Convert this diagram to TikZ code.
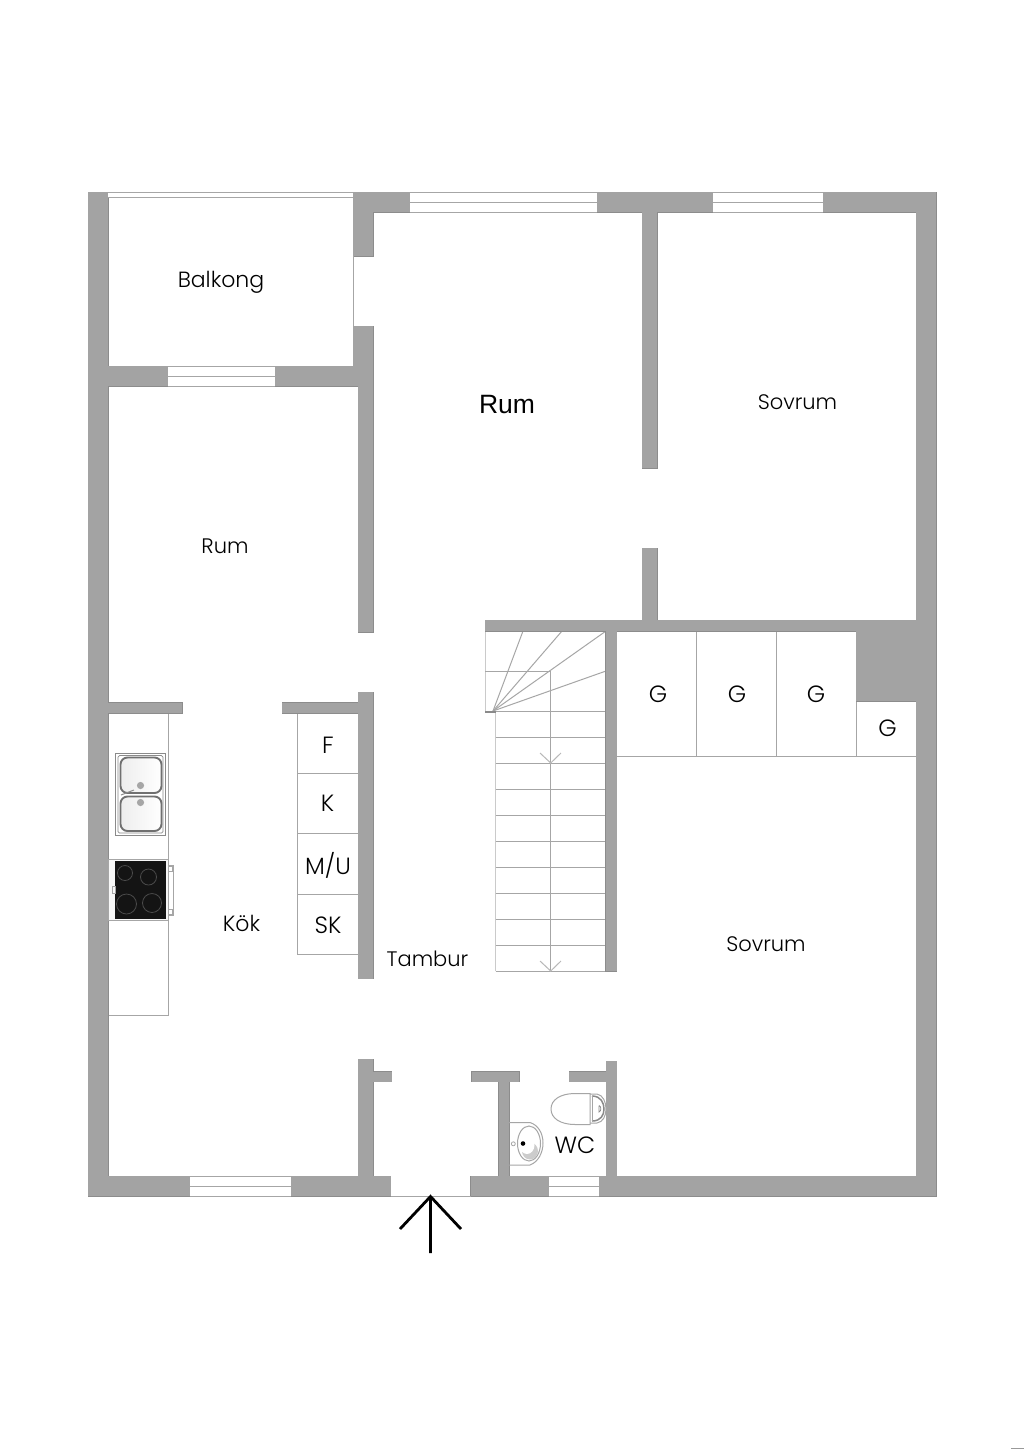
\documentclass[tikz,border=0pt]{standalone}
\usepackage{fontspec}
\setmainfont{Poppins}[UprightFont=* Light]
\newfontfamily\arialfont{Liberation Sans}
\tikzset{
  walledge/.style={draw=edgegray,line width=1pt},
  thinline/.style={draw=linegray,line width=1pt},
  winline/.style={draw=linegray,line width=1pt},
  lbl/.style={inner sep=0pt,text=black,font=\fontsize{21}{26}\selectfont},
  lblbig/.style={inner sep=0pt,text=black,font=\fontsize{23.5}{26}\selectfont},
  sinkline/.style={draw=sinkgray,line width=1pt},
  basin/.style={draw=basinedge,line width=1.9pt,rounded corners=7pt,left color=gray!14,right color=white},
}
\definecolor{wallgray}{HTML}{A3A3A3}
\definecolor{edgegray}{HTML}{8C8C8C}
\definecolor{linegray}{HTML}{A6A6A6}
\definecolor{sinkgray}{HTML}{8A8A8A}
\definecolor{basinedge}{HTML}{707070}
\definecolor{ringgray}{HTML}{4A4A4A}
\newcommand{\wallrects}{88/192/108/1196,916/192/936/1196,
353/192/410/212,597/192/713/212,823/192/936/212,
88/1176/190/1196,291/1176/390.7/1196,470.7/1176/548.7/1196,599.3/1176/936/1196,
353/192/373/256,353/326/373/386,358/366/373/632,
108/366/168/386,275/366/373/386,
642/192/657/468,642/548/657/631,
485/620/916/631,605.8/620/616.5/971,856/620/936/701,
108/702.7/182/713,282/702.7/373/713,358/692/373/978.5,
358/1059/373/1176,358/1071.7/391.7/1081.7,
498.7/1071.7/509/1176,471.7/1071.7/519.3/1081.7,
569.3/1071.7/616.5/1081.7,606/1061/616.5/1176}
\begin{document}
\begin{tikzpicture}[x=1pt,y=-1pt]
\useasboundingbox[fill=white] (0,0) rectangle (1024,1449);
\fill[gray!80] (1011,1447.6) rectangle (1024,1449);
% fixtures
\draw[thinline] (108,713) rectangle (168.5,1015);
\draw[thinline] (108,859) -- (168.5,859) (108,920) -- (168.5,920);
\draw[thinline] (297.5,713) rectangle (358,954.5);
\foreach \yy in {773.3,833.8,894} \draw[thinline] (297.5,\yy) -- (358,\yy);
% closets
\draw[thinline] (616,756) -- (916,756);
\foreach \xx in {696.3,776,856} \draw[thinline] (\xx,631) -- (\xx,756);
\draw[thinline] (856,701) -- (916,701);
% stairs
\draw[thinline,draw=linegray!60] (485,631) -- (485,711) (495.5,711) -- (495.5,971);
\foreach \yy in {711,737,763,789,815,841,867,893,919,945,971} \draw[thinline] (495.5,\yy) -- (606,\yy);
\draw[thinline] (485,671) -- (550.7,671) -- (550.7,971);
\foreach \a/\b in {523/631,562/631,606/631,606/671} \draw[thinline] (493,711) -- (\a,\b);
\foreach \yy in {763,971} \draw[thinline,draw=linegray!80] (540,\yy-10) -- (550.7,\yy) -- (561,\yy-10);
% walls: outline of all rectangles, then fill on top gives the union outline
\foreach \a/\b/\c/\d in \wallrects \draw[walledge] (\a,\b) rectangle (\c,\d);
\foreach \a/\b/\c/\d in \wallrects \fill[wallgray] (\a,\b) rectangle (\c,\d);
\fill[sinkgray] (485,710.5) rectangle (495.5,712.5);
% windows
\foreach \a/\b/\c/\d/\m in {410/192/597/212/202,713/192/823/212/202,190/1176/291/1196/1186,548.7/1176/599.3/1196/1186,168/366/275/386/376} {
  \fill[white] (\a,\b) rectangle (\c,\d);
  \draw[winline] (\a,\b) -- (\c,\b) (\a,\m) -- (\c,\m) (\a,\d) -- (\c,\d);
}
\fill[white] (108,192) rectangle (353,197);
\draw[winline] (108,192) -- (353,192) (108,197) -- (353,197);
\draw[thinline] (353,256) -- (353,326);
\draw[winline] (390.7,1196) -- (470.7,1196);
% sink
\draw[sinkline,fill=white] (115.7,753) rectangle (165.3,835.7);
\draw[sinkline,line width=.7pt,rounded corners=1.5pt] (118,755.5) rectangle (163,833);
\foreach \t/\bb in {757.5/793,796.5/831} \draw[basin] (120.5,\t) rectangle (161.5,\bb);
\fill[gray!70] (140.5,785.5) circle (3.6pt);
\fill[gray!70] (140.5,802.5) circle (3.6pt);
\draw[gray!90,line width=1pt] (121,795) -- (134,790);
% stove
\draw[thinline,fill=gray!6] (108,859) rectangle (168,920);
\fill[black!92] (115,860.5) rectangle (166,919);
\draw[thinline] (112.5,886) rectangle (115,893);
\draw[thinline] (168,865) rectangle (173,915);
\draw[thinline,line width=.8pt] (168,866) rectangle (172,871) (168,909) rectangle (172,914);
\foreach \x/\y/\r in {125/873/7.5,148.5/877/8,126.5/904/10,152/903/9.5} \draw[ringgray,line width=.8pt] (\x,\y) circle (\r pt);
% wc basin
\draw[thinline] (509,1122.5) -- (530,1122.5) .. controls (538,1125) and (543,1133) .. (543,1143) .. controls (543,1153) and (538,1162) .. (530,1165) -- (509,1165);
\draw[thinline,fill=white] (529,1143.5) ellipse (11.5pt and 17.5pt);
\fill[gray!40] (530,1151) ellipse (8pt and 8.5pt);
\fill[white] (527,1145) ellipse (7.5pt and 9pt);
\fill[black] (523,1143.5) circle (2.3pt);
\draw[thinline,line width=.8pt] (513.3,1143.8) circle (2pt);
% toilet
\draw[thinline] (590,1093.5) -- (575,1093.5) .. controls (560,1093.5) and (551,1100) .. (551,1109) .. controls (551,1118) and (560,1124.5) .. (575,1124.5) -- (590,1124.5) -- cycle;
\draw[thinline] (590,1094) -- (597,1094) .. controls (603,1095) and (606,1102) .. (606,1109) .. controls (606,1116) and (603,1122) .. (597,1123) -- (590,1123);
\draw[sinkline,line width=1.5pt] (592,1096) .. controls (601,1096) and (604,1103) .. (604,1109) .. controls (604,1115) and (601,1121) .. (592,1121);
\draw[thinline] (592,1096) -- (592,1121);
\draw[sinkline,line width=.7pt] (599,1105.5) -- (599,1112) .. controls (601.5,1111.5) and (601.5,1106) .. (599,1105.5);
% entrance arrow
\coordinate (tip) at (430.5,1196.5);
\coordinate (tail) at (430.5,1253);
\coordinate (armL) at (400,1229);
\coordinate (armR) at (461,1229);
\draw[black,line width=2.8pt] (tail) -- (tip) (armL) -- (tip) -- (armR);
% labels
\node[lbl,font=\fontsize{22}{26}\selectfont] (balkong) at (221,282) {Balkong};
\node[lbl,font=\arialfont\fontsize{26.5}{30}\selectfont] (rumA) at (507,405) {Rum};
\node[lbl] (sovA) at (797.5,402.5) {Sovrum};
\node[lbl] (rumB) at (225,546) {Rum};
\node[lbl] (sovB) at (766,944.5) {Sovrum};
\node[lblbig] (f) at (328,745) {F};
\node[lblbig] (k) at (327.5,803.5) {K};
\node[lblbig] (mu) at (328,865.5) {M/U};
\node[lblbig] (sk) at (328,925.5) {SK};
\node[lbl,font=\fontsize{22}{26}\selectfont] (kok) at (241.5,923) {Kök};
\node[lbl] (tambur) at (427.5,959) {Tambur};
\node[lblbig] (wc) at (575,1145.5) {WC};
\node[lblbig] (g1) at (658,694.5) {G};
\node[lblbig] (g2) at (737,694.5) {G};
\node[lblbig] (g3) at (816,694.5) {G};
\node[lblbig] (g4) at (887.5,728.5) {G};
\end{tikzpicture}
\end{document}
